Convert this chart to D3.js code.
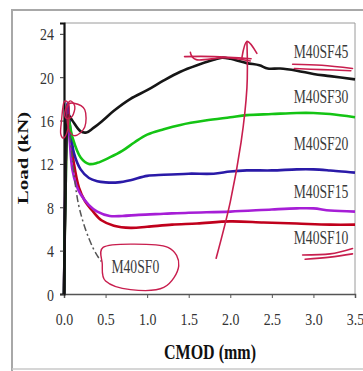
<!DOCTYPE html>
<html>
<head>
<meta charset="utf-8">
<script src="https://cdn.jsdelivr.net/npm/d3@7"></script>
<style>
  body { margin: 0; background: #fff; }
  text { font-family: "Liberation Serif", "DejaVu Serif", serif; }
</style>
</head>
<body>
<svg id="chart" width="363" height="371"></svg>
<script>
// CMOD (mm) and load (kN), one pair of arrays per mix
let cmod45 = [0, 0.02, 0.05, 0.1, 0.2, 0.27, 0.35, 0.45, 0.6, 0.8, 1.0, 1.2, 1.4, 1.6, 1.8, 1.9, 2.0, 2.2, 2.35, 2.45, 2.6, 2.8, 3.0, 3.2, 3.5]
let load45 = [0, 10, 16.5, 16.0, 15.0, 14.9, 15.3, 15.9, 16.9, 18.0, 18.8, 19.7, 20.5, 21.1, 21.6, 21.8, 21.7, 21.3, 21.1, 20.8, 20.8, 20.6, 20.3, 20.1, 19.8]

let cmod30 = [0, 0.02, 0.05, 0.1, 0.2, 0.3, 0.4, 0.55, 0.7, 0.85, 1.0, 1.2, 1.4, 1.7, 2.0, 2.2, 2.5, 2.8, 3.0, 3.2, 3.5]
let load30 = [0, 10, 16.2, 14.5, 12.6, 12.0, 12.1, 12.6, 13.2, 14.0, 14.7, 15.2, 15.6, 16.0, 16.3, 16.5, 16.6, 16.7, 16.7, 16.6, 16.3]

let cmod20 = [0, 0.02, 0.04, 0.08, 0.12, 0.2, 0.3, 0.4, 0.5, 0.65, 0.8, 1.0, 1.2, 1.5, 1.8, 2.0, 2.2, 2.5, 2.8, 3.0, 3.2, 3.5]
let load20 = [0, 12, 17.6, 15.0, 13.0, 11.5, 10.7, 10.4, 10.3, 10.3, 10.5, 10.9, 11.0, 11.1, 11.1, 11.3, 11.4, 11.4, 11.5, 11.5, 11.4, 11.2]

let cmod15 = [0, 0.02, 0.04, 0.07, 0.1, 0.15, 0.2, 0.3, 0.4, 0.55, 0.7, 0.9, 1.2, 1.5, 2.0, 2.5, 2.8, 3.0, 3.2, 3.5]
let load15 = [0, 12, 17.0, 14.0, 11.5, 10.0, 9.2, 8.2, 7.6, 7.2, 7.2, 7.3, 7.4, 7.5, 7.6, 7.8, 7.9, 7.9, 7.7, 7.6]

let cmod10 = [0, 0.02, 0.045, 0.08, 0.12, 0.18, 0.25, 0.35, 0.45, 0.6, 0.8, 1.0, 1.3, 1.6, 2.0, 2.4, 2.8, 3.2, 3.5]
let load10 = [0, 11, 16.8, 14.5, 12.0, 9.8, 8.6, 7.6, 6.8, 6.3, 6.1, 6.2, 6.4, 6.5, 6.7, 6.6, 6.5, 6.4, 6.4]

let cmod0 = [0, 0.02, 0.05, 0.1, 0.15, 0.2, 0.25, 0.3, 0.35, 0.4, 0.45]
let load0 = [0, 10, 16.0, 12.5, 9.0, 7.4, 6.1, 5.1, 4.2, 3.5, 3.0]

let xTicks = [0, 0.5, 1.0, 1.5, 2.0, 2.5, 3.0, 3.5]
let yTicks = [0, 4, 8, 12, 16, 20, 24]

let names = ["M40SF45", "M40SF30", "M40SF20", "M40SF15", "M40SF10", "M40SF0"]
// where each name sits (CMOD, load)
let labelX = [3.42, 3.42, 3.42, 3.42, 3.42, 0.57]
let labelY = [22.3, 18.2, 13.8, 9.4, 5.2, 2.5]

let series = [
  { name: "M40SF10", c: cmod10, l: load10, color: "#c0001c", dash: null },
  { name: "M40SF15", c: cmod15, l: load15, color: "#a61ed6", dash: null },
  { name: "M40SF20", c: cmod20, l: load20, color: "#2a1aa8", dash: null },
  { name: "M40SF30", c: cmod30, l: load30, color: "#14c414", dash: null },
  { name: "M40SF45", c: cmod45, l: load45, color: "#161616", dash: null },
  { name: "M40SF0", c: cmod0, l: load0, color: "#222", dash: "7,3,2,3" }
]

let svg = d3.select("#chart")
let pLeft = 64, pRight = 355, pTop = 23, pBottom = 294

let x = d3.scaleLinear().domain([0, 3.5]).range([pLeft, pRight])
let y = d3.scaleLinear().domain([0, 25]).range([pBottom, pTop])

// outer frame of the figure
svg.append("path")
  .attr("d", "M12,372 L12,10 L370,10")
  .attr("fill", "none").attr("stroke", "#a8a8a8").attr("stroke-width", 2)
svg.append("line")
  .attr("x1", 12).attr("x2", 370).attr("y1", 369).attr("y2", 369)
  .attr("stroke", "#c8c8c8").attr("stroke-width", 1.5)

// plot box, top and right
svg.append("path")
  .attr("d", "M" + pLeft + "," + pTop + " L" + pRight + "," + pTop + " L" + pRight + "," + pBottom)
  .attr("fill", "none").attr("stroke", "#9a9a9a").attr("stroke-width", 1)

let line = d3.line().curve(d3.curveMonotoneX)

series.forEach((s) => {
  let pts = s.c.map((c, i) => [x(c), y(s.l[i])])
  if (s.dash) {
    // rising part drawn solid, softening part dash-dot
    svg.append("path").attr("d", line(pts.slice(0, 3)))
      .attr("fill", "none").attr("stroke", s.color).attr("stroke-width", 1.5)
    svg.append("path").attr("d", d3.line().curve(d3.curveBasis)(pts.slice(2)))
      .attr("fill", "none").attr("stroke", "#555").attr("stroke-width", 1.5)
      .attr("stroke-dasharray", s.dash)
  } else {
    svg.append("path").attr("d", d3.line().curve(d3.curveCatmullRom)(pts))
      .attr("fill", "none").attr("stroke", s.color).attr("stroke-width", 2.6)
      .attr("stroke-linejoin", "round")
  }
})

// axes
let gx = svg.append("g").attr("transform", "translate(0," + pBottom + ")")
  .call(d3.axisBottom(x).tickValues(xTicks).tickSize(4).tickFormat(d3.format(".1f")))
gx.select(".domain").attr("stroke", "#555").attr("stroke-width", 1.5)
gx.selectAll(".tick line").attr("stroke", "#555")
gx.selectAll(".tick text").remove()
gx.selectAll(".tick").append("text")
  .text((d) => d3.format(".1f")(d))
  .attr("fill", "#333").attr("font-size", 17).attr("text-anchor", "middle")
  .attr("transform", "translate(0,31) scale(0.82,1)")

let gy = svg.append("g").attr("transform", "translate(" + pLeft + ",0)")
  .call(d3.axisLeft(y).tickValues(yTicks).tickSize(4))
gy.select(".domain").attr("stroke", "#111").attr("stroke-width", 2.2)
gy.selectAll(".tick line").attr("stroke", "#333")
gy.selectAll(".tick text").remove()
gy.selectAll(".tick").append("text")
  .text((d) => d)
  .attr("fill", "#333").attr("font-size", 17).attr("text-anchor", "end")
  .attr("transform", "translate(-10,6) scale(0.82,1)")

// axis titles
svg.append("text").text("CMOD (mm)")
  .attr("font-weight", "bold").attr("font-size", 20).attr("fill", "#111")
  .attr("text-anchor", "middle")
  .attr("transform", "translate(210,359) scale(0.8,1)")

svg.append("text").text("Load (kN)")
  .attr("font-weight", "bold").attr("font-size", 21).attr("fill", "#111")
  .attr("text-anchor", "middle")
  .attr("transform", "translate(28,158) rotate(-90) scale(1,0.72)")

// series names
names.forEach((n, i) => {
  svg.append("text").text(n)
    .attr("fill", "#3a3a3a").attr("font-size", 18)
    .attr("text-anchor", i == 5 ? "start" : "end")
    .attr("transform", "translate(" + x(labelX[i]) + "," + (y(labelY[i]) + 6) + ") scale(0.76,1)")
})

// hand-drawn red marks on the picture, in data units
let ink = "#c81e4e"
let sketch = d3.line().curve(d3.curveCardinalClosed)
let sketchOpen = d3.line().curve(d3.curveCardinal)
let loops = [
  [[0.47, 4.3], [0.8, 4.6], [1.25, 4.3], [1.38, 2.6], [1.2, 0.6], [0.8, 0.4], [0.5, 1.2], [0.46, 2.8]],
  [[-0.03, 16.0], [0.0, 17.7], [0.06, 17.4], [0.05, 15.4], [0.0, 14.4], [-0.04, 14.8]],
  [[0.04, 17.3], [0.12, 17.6], [0.25, 17.0], [0.25, 15.4], [0.13, 14.6], [0.05, 15.4]],
  [[0.01, 16.8], [0.07, 17.8], [0.13, 17.3], [0.1, 16.4], [0.03, 16.2]]
]
loops.forEach((p) => {
  svg.append("path").attr("d", sketch(p.map((d) => [x(d[0]), y(d[1])])))
    .attr("fill", "none").attr("stroke", ink).attr("stroke-width", 1.4)
})

let strokes = [
  [[1.83, 3.3], [2.0, 8.5], [2.13, 14.0], [2.2, 19.0], [2.2, 23.3]],
  [[2.14, 21.8], [2.2, 23.3], [2.32, 22.2]],
  [[1.45, 21.9], [1.8, 21.9], [2.25, 21.7]],
  [[1.52, 22.3], [1.6, 21.6], [1.95, 21.8], [2.24, 21.5]],
  [[2.75, 21.2], [3.1, 21.1], [3.47, 20.8]],
  [[2.77, 20.8], [3.1, 20.7], [3.45, 20.6]],
  [[2.87, 3.6], [3.2, 3.7], [3.47, 4.2]],
  [[2.9, 3.2], [3.2, 3.4], [3.47, 3.7]]
]
strokes.forEach((p) => {
  svg.append("path").attr("d", sketchOpen(p.map((d) => [x(d[0]), y(d[1])])))
    .attr("fill", "none").attr("stroke", ink).attr("stroke-width", 1.6)
    .attr("stroke-linecap", "round")
})
</script>
</body>
</html>
